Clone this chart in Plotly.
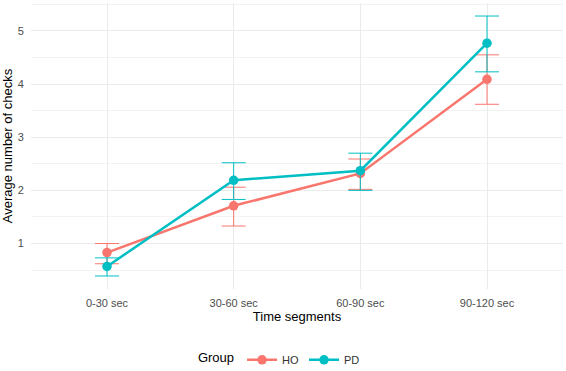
import plotly.graph_objects as go

categories = ["0-30 sec", "30-60 sec", "60-90 sec", "90-120 sec"]
ho_mean = [0.83, 1.71, 2.32, 4.09]
ho_lo = [0.62, 1.33, 2.02, 3.62]
ho_hi = [1.00, 2.06, 2.59, 4.55]
pd_mean = [0.57, 2.19, 2.37, 4.77]
pd_lo = [0.39, 1.83, 2.00, 4.23]
pd_hi = [0.73, 2.52, 2.70, 5.28]

HO_COLOR = "#F8766D"
PD_COLOR = "#00BFC4"
FONT = "Liberation Sans, Arial, sans-serif"

fig = go.Figure()
for name, mean, lo, hi, col in [
    ("HO", ho_mean, ho_lo, ho_hi, HO_COLOR),
    ("PD", pd_mean, pd_lo, pd_hi, PD_COLOR),
]:
    fig.add_trace(go.Scatter(
        x=categories, y=mean, name=name, mode="lines+markers",
        line=dict(color=col, width=2.5),
        marker=dict(color=col, size=9.5),
        error_y=dict(type="data", symmetric=False,
                     array=[h - m for h, m in zip(hi, mean)],
                     arrayminus=[m - l for m, l in zip(mean, lo)],
                     color=col, thickness=1, width=12),
    ))

fig.update_layout(
    width=566, height=371,
    margin=dict(l=31, r=3, t=3, b=82),
    plot_bgcolor="white", paper_bgcolor="white",
    font=dict(family=FONT, size=11, color="#4D4D4D"),
    showlegend=True,
    legend=dict(orientation="h", x=0.31, xanchor="left",
                yref="container", y=0.03, yanchor="middle",
                title=dict(text="Group", font=dict(size=13, color="black"), side="left"),
                font=dict(size=11, color="#333333"), itemwidth=30, tracegroupgap=0),
    xaxis=dict(
        type="category", range=[-0.6, 3.6], automargin=False,
        showgrid=True, gridcolor="#EBEBEB", gridwidth=1,
        zeroline=False, showline=False,
        ticks="outside", ticklen=4, tickcolor="rgba(0,0,0,0)",
        tickfont=dict(size=11, color="#4D4D4D"),
        title=dict(text="Time segments", font=dict(size=13, color="black"), standoff=2),
    ),
    yaxis=dict(
        range=[0.145, 5.525], dtick=1, tick0=0, automargin=False,
        showgrid=True, gridcolor="#EBEBEB", gridwidth=1,
        minor=dict(dtick=0.5, tick0=0, showgrid=True, gridcolor="#F3F3F3", gridwidth=0.6),
        zeroline=False, showline=False,
        ticks="outside", ticklen=4, tickcolor="rgba(0,0,0,0)",
        tickfont=dict(size=11, color="#4D4D4D"),
        title=dict(text="Average number of checks", font=dict(size=13, color="black"), standoff=5),
    ),
)

fig.write_html("out.html")
